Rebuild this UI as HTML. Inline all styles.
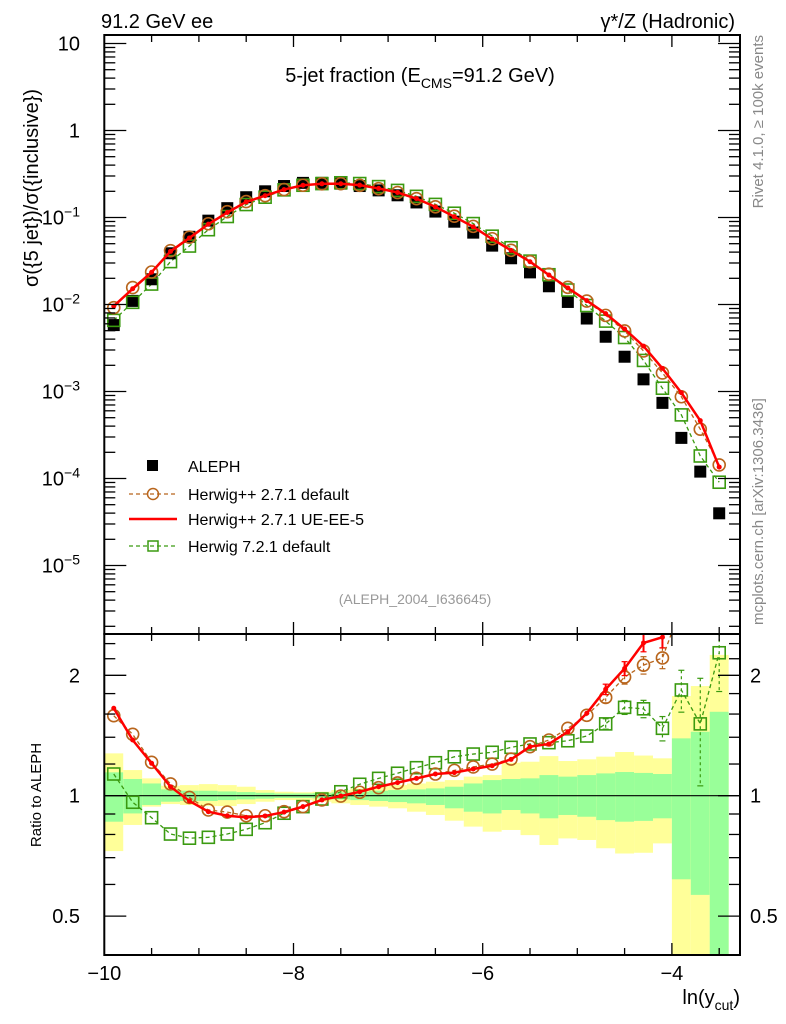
<!DOCTYPE html>
<html><head><meta charset="utf-8"><style>
html,body{margin:0;padding:0;background:#fff;}
svg{display:block;font-family:"Liberation Sans",sans-serif;}
</style></head><body>
<svg id="chart" width="786" height="1024" viewBox="0 0 786 1024" xmlns="http://www.w3.org/2000/svg">
<g id="bands"></g>
<g id="marks"></g>
<g id="axes"></g>
<text x="101" y="28" font-size="20">91.2 GeV ee</text>
<text x="735" y="28" font-size="20" text-anchor="end">γ*/Z (Hadronic)</text>
<text x="420" y="82" font-size="20" text-anchor="middle">5-jet fraction (E<tspan font-size="14" dy="6">CMS</tspan><tspan dy="-6">=91.2 GeV)</tspan></text>
<text transform="translate(38,188) rotate(-90)" font-size="20" text-anchor="middle" x="0" y="0">σ({5 jet})/σ({inclusive})</text>
<text transform="translate(41,795) rotate(-90)" font-size="15" text-anchor="middle">Ratio to ALEPH</text>
<text x="740" y="1004" font-size="20" text-anchor="end">ln(y<tspan font-size="14" dy="6">cut</tspan><tspan dy="-6">)</tspan></text>
<text transform="translate(763,35) rotate(-90)" font-size="15" fill="#888" text-anchor="end">Rivet 4.1.0, ≥ 100k events</text>
<text transform="translate(763,625) rotate(-90)" font-size="15" fill="#888">mcplots.cern.ch [arXiv:1306.3436]</text>
<text x="415" y="604" font-size="14" fill="#999" text-anchor="middle">(ALEPH_2004_I636645)</text>
<g font-size="16">
  <rect x="147" y="460" width="11" height="11" fill="#000"/>
  <text x="188" y="472">ALEPH</text>
  <line x1="129" y1="494" x2="176" y2="494" stroke="#b8651c" stroke-width="1.3" stroke-dasharray="4,3"/>
  <circle cx="153" cy="494" r="5.5" fill="none" stroke="#b8651c" stroke-width="1.5"/>
  <text x="188" y="500">Herwig++ 2.7.1 default</text>
  <line x1="129" y1="519" x2="177" y2="519" stroke="#ff0000" stroke-width="2.5"/>
  <text x="188" y="525">Herwig++ 2.7.1 UE-EE-5</text>
  <line x1="129" y1="546" x2="176" y2="546" stroke="#3a9a10" stroke-width="1.3" stroke-dasharray="4,3"/>
  <rect x="148" y="541" width="10" height="10" fill="none" stroke="#3a9a10" stroke-width="1.5"/>
  <text x="188" y="552">Herwig 7.2.1 default</text>
</g>
</svg>
<script>
const binCenters=[-9.9,-9.7,-9.5,-9.3,-9.1,-8.9,-8.7,-8.5,-8.3,-8.1,-7.9,-7.7,-7.5,-7.3,-7.1,-6.9,-6.7,-6.5,-6.3,-6.1,-5.9,-5.7,-5.5,-5.3,-5.1,-4.9,-4.7,-4.5,-4.3,-4.1,-3.9,-3.7,-3.5];
const alephValues=[0.0058,0.011,0.0195,0.0388,0.06,0.092,0.128,0.171,0.20,0.23,0.25,0.25,0.245,0.23,0.205,0.18,0.149,0.117,0.0895,0.067,0.0475,0.034,0.0234,0.0162,0.0107,0.0069,0.00426,0.00251,0.00138,0.00074,0.000293,0.00012,0.0000398];
const ratioHppDefault=[1.585,1.424,1.212,1.07,0.99,0.921,0.91,0.891,0.891,0.912,0.939,0.976,0.998,1.02,1.047,1.076,1.105,1.133,1.157,1.18,1.2,1.235,1.326,1.378,1.474,1.588,1.76,1.98,2.12,2.21,2.97,3.07,3.6];
const ratioHppUEEE5=[1.654,1.378,1.205,1.053,0.97,0.912,0.891,0.883,0.89,0.91,0.939,0.976,0.998,1.023,1.053,1.078,1.105,1.133,1.142,1.166,1.188,1.233,1.326,1.347,1.445,1.607,1.845,2.08,2.41,2.49,3.3,3.85,3.4];
const ratioH7Default=[1.133,0.963,0.881,0.802,0.783,0.787,0.802,0.824,0.856,0.904,0.939,0.981,1.023,1.068,1.105,1.138,1.175,1.209,1.251,1.271,1.284,1.321,1.347,1.357,1.372,1.41,1.512,1.663,1.649,1.474,1.838,1.512,2.277];
const relErrH7=[0.01,0.01,0.01,0.01,0.01,0.01,0.01,0.01,0.01,0.01,0.01,0.01,0.01,0.01,0.01,0.01,0.01,0.01,0.01,0.01,0.01,0.01,0.01,0.01,0.015,0.02,0.03,0.04,0.05,0.07,0.12,0.3,0.2];
const relErrHpp=[0.02,0.02,0.01,0.01,0.01,0.01,0.01,0.01,0.01,0.01,0.01,0.01,0.01,0.01,0.01,0.01,0.01,0.01,0.01,0.01,0.01,0.01,0.01,0.01,0.015,0.02,0.03,0.04,0.05,0.06,0.1,0.12,0.15];
const totUp=[1.276,1.159,1.105,1.059,1.063,1.069,1.063,1.053,1.033,1.023,1.020,1.023,1.033,1.043,1.053,1.063,1.073,1.084,1.094,1.116,1.126,1.209,1.216,1.256,1.221,1.233,1.252,1.286,1.26,1.240,1.775,1.880,2.249];
const totDn=[0.727,0.845,0.939,0.953,0.948,0.942,0.942,0.953,0.966,0.975,0.975,0.966,0.957,0.948,0.939,0.930,0.912,0.895,0.866,0.837,0.813,0.821,0.797,0.753,0.782,0.775,0.739,0.717,0.72,0.760,0.3,0.3,0.3];
const statUp=[1.144,1.101,1.073,1.037,1.029,1.029,1.025,1.021,1.017,1.013,1.013,1.015,1.019,1.023,1.029,1.033,1.037,1.043,1.053,1.073,1.094,1.101,1.105,1.126,1.116,1.126,1.137,1.146,1.14,1.133,1.391,1.445,1.621];
const statDn=[0.861,0.903,0.948,0.966,0.970,0.970,0.975,0.979,0.983,0.987,0.987,0.985,0.979,0.975,0.970,0.964,0.957,0.948,0.930,0.912,0.903,0.921,0.903,0.878,0.895,0.886,0.869,0.861,0.865,0.878,0.618,0.565,0.3];
const xTickLabels=[-10,-8,-6,-4];
const mainTickExps=[1,0,-1,-2,-3,-4,-5];
const ratioTickLabels=[0.5,1,2];

const NS="http://www.w3.org/2000/svg";
const L=104.3,R=740,T1=35,B1=634,T2=634,B2=955;
const xs=v=>L+(v+10)*94.6;
const ym=v=>130.5-Math.log10(v)*87;
const yr=v=>795.7-Math.log10(v)*400;
const clampR=y=>Math.max(T2,Math.min(B2,y));
function mk(tag,attrs,parent){const e=document.createElementNS(NS,tag);for(const k in attrs)e.setAttribute(k,attrs[k]);parent.appendChild(e);return e;}
const bands=document.getElementById('bands'),marks=document.getElementById('marks'),axes=document.getElementById('axes');

binCenters.forEach((c,i)=>{
  const x0=xs(c-0.1),x1=Math.min(R,xs(c+0.1));
  let r=mk('rect',{x:x0,y:clampR(yr(totUp[i])),width:x1-x0,height:clampR(yr(totDn[i]))-clampR(yr(totUp[i])),fill:'#ffff99'},bands);
  
  
  let g=mk('rect',{x:x0,y:clampR(yr(statUp[i])),width:x1-x0,height:clampR(yr(statDn[i]))-clampR(yr(statUp[i])),fill:'#99ff99'},bands);
  
  
});
mk('line',{x1:L,x2:R,y1:yr(1),y2:yr(1),stroke:'#000','stroke-width':1.2},bands);

const defs=mk('defs',{},marks);
const cp=mk('clipPath',{id:'rclip'},defs);mk('rect',{x:L,y:T2,width:R-L,height:B2-T2},cp);
const rg=mk('g',{'clip-path':'url(#rclip)'},marks);
const mg=mk('g',{},marks);

const BROWN='#b8651c',RED='#ff0000',GREEN='#3a9a10';
function pts(fx,fy,arr){return arr.map((v,i)=>fx(binCenters[i])+','+fy(v)).join(' ');}
const hppMain=alephValues.map((v,i)=>v*ratioHppDefault[i]);
const ueMain=alephValues.map((v,i)=>v*ratioHppUEEE5[i]);
const h7Main=alephValues.map((v,i)=>v*ratioH7Default[i]);

let pl=mk('polyline',{points:pts(xs,ym,h7Main),fill:'none',stroke:GREEN,'stroke-width':1.3,'stroke-dasharray':'4,3'},mg);

pl=mk('polyline',{points:pts(xs,ym,hppMain),fill:'none',stroke:BROWN,'stroke-width':1.3,'stroke-dasharray':'4,3'},mg);

alephValues.forEach((v,i)=>{
  const r=mk('rect',{x:xs(binCenters[i])-6,y:ym(v)-6,width:12,height:12,fill:'#000'},mg);
  
  
});
h7Main.forEach((v,i)=>{
  const r=mk('rect',{x:xs(binCenters[i])-6,y:ym(v)-6,width:12,height:12,fill:'none',stroke:GREEN,'stroke-width':1.6},mg);
  
  
});
hppMain.forEach((v,i)=>{
  const c=mk('circle',{cx:xs(binCenters[i]),cy:ym(v),r:6,fill:'none',stroke:BROWN,'stroke-width':1.6},mg);
  
  
});
pl=mk('polyline',{points:pts(xs,ym,ueMain),fill:'none',stroke:RED,'stroke-width':2.5},mg);

ueMain.forEach((v,i)=>{
  const c=mk('circle',{cx:xs(binCenters[i]),cy:ym(v),r:2.5,fill:RED},mg);
  
  
});

function errBar(g,x,lo,hi,col,dash){mk('line',{x1:x,x2:x,y1:lo,y2:hi,stroke:col,'stroke-width':dash?1.2:2,'stroke-dasharray':dash?'3,3':'none'},g);mk('line',{x1:x-3,x2:x+3,y1:lo,y2:lo,stroke:col,'stroke-width':1.2},g);mk('line',{x1:x-3,x2:x+3,y1:hi,y2:hi,stroke:col,'stroke-width':1.2},g);}
pl=mk('polyline',{points:pts(xs,yr,ratioH7Default),fill:'none',stroke:GREEN,'stroke-width':1.3,'stroke-dasharray':'4,3'},rg);

pl=mk('polyline',{points:pts(xs,yr,ratioHppDefault),fill:'none',stroke:BROWN,'stroke-width':1.3,'stroke-dasharray':'4,3'},rg);

ratioH7Default.forEach((v,i)=>{
  const x=xs(binCenters[i]);
  if(relErrH7[i]>0.02)errBar(rg,x,yr(v*(1+relErrH7[i])),yr(v*(1-relErrH7[i])),GREEN,true);
  const r=mk('rect',{x:x-6,y:yr(v)-6,width:12,height:12,fill:'#fff','fill-opacity':0,stroke:GREEN,'stroke-width':1.6},rg);
  
  
});
ratioHppDefault.forEach((v,i)=>{
  const x=xs(binCenters[i]);
  if(relErrHpp[i]>0.02)errBar(rg,x,yr(v*(1+relErrHpp[i])),yr(v*(1-relErrHpp[i])),BROWN,true);
  const c=mk('circle',{cx:x,cy:yr(v),r:6,fill:'none',stroke:BROWN,'stroke-width':1.6},rg);
  
  
});
pl=mk('polyline',{points:pts(xs,yr,ratioHppUEEE5),fill:'none',stroke:RED,'stroke-width':2.5},rg);

ratioHppUEEE5.forEach((v,i)=>{
  const x=xs(binCenters[i]);
  if(relErrHpp[i]>0.02)errBar(rg,x,yr(v*(1+relErrHpp[i])),yr(v*(1-relErrHpp[i])),RED,false);
  const c=mk('circle',{cx:x,cy:yr(v),r:2.5,fill:RED},rg);
  
  
});

mk('rect',{x:L,y:T1,width:R-L,height:B1-T1,fill:'none',stroke:'#000','stroke-width':2},axes);
mk('rect',{x:L,y:T2,width:R-L,height:B2-T2,fill:'none',stroke:'#000','stroke-width':2},axes);
function tk(x1,y1,x2,y2){mk('line',{x1,y1,x2,y2,stroke:'#000','stroke-width':1.3},axes);}
for(let v=-10;v<=-3.3;v+=0.5){
  const x=xs(v),major=Math.abs(v-Math.round(v/2)*2)<1e-6,len=major?12:7;
  [[T1,1],[B1,-1],[T2,1],[B2,-1]].forEach(([y,d])=>tk(x,y,x,y+d*len));
}
xTickLabels.forEach(v=>{const t=mk('text',{x:xs(v),y:980,'font-size':20,'text-anchor':'middle'},axes);t.textContent='\u2212'+Math.abs(v);});
for(let e=-6;e<=1;e++){for(let m=1;m<10;m++){const v=m*Math.pow(10,e),y=ym(v);if(y<T1||y>B1)continue;const len=m==1?22:11;tk(L,y,L+len,y);tk(R,y,R-len,y);}}
mainTickExps.forEach(e=>{
  const t=mk('text',{x:80,y:ym(Math.pow(10,e))+7,'font-size':20,'text-anchor':'end'},axes);
  if(e===1)t.textContent='10';else if(e===0)t.textContent='1';
  else{t.textContent='10';const s=mk('tspan',{dy:-8,'font-size':14},t);s.textContent='\u2212'+Math.abs(e);}
  
});
[0.4,0.5,0.6,0.7,0.8,0.9,1,1.2,1.4,1.6,1.8,2,2.2,2.4].forEach(v=>{const y=yr(v);const len=(v==0.5||v==1||v==2)?22:11;tk(L,y,L+len,y);tk(R,y,R-len,y);});
ratioTickLabels.forEach(v=>{
  const a=mk('text',{x:80,y:yr(v)+7,'font-size':20,'text-anchor':'end'},axes);a.textContent=String(v);
  
  const b=mk('text',{x:750,y:yr(v)+7,'font-size':20},axes);b.textContent=String(v);
  
});
</script>
</body></html>
